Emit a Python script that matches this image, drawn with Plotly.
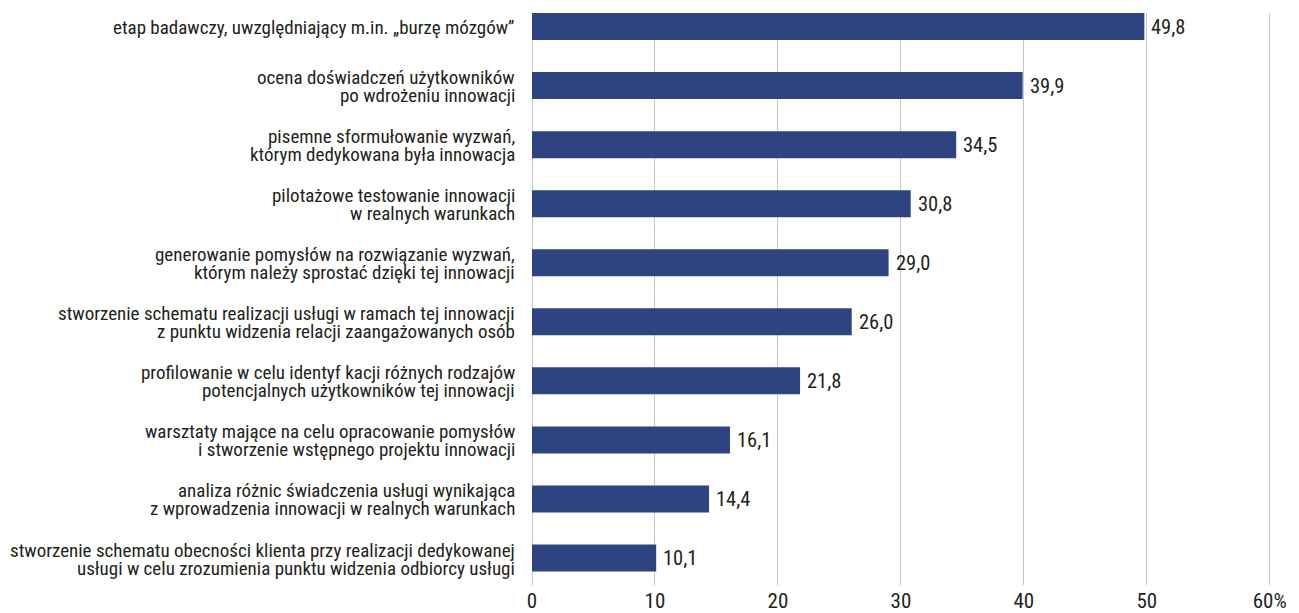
import plotly.graph_objects as go

categories = [
    "etap badawczy, uwzględniający m.in. „burzę mózgów”",
    "ocena doświadczeń użytkowników<br>po wdrożeniu innowacji",
    "pisemne sformułowanie wyzwań,<br>którym dedykowana była innowacja",
    "pilotażowe testowanie innowacji<br>w realnych warunkach",
    "generowanie pomysłów na rozwiązanie wyzwań,<br>którym należy sprostać dzięki tej innowacji",
    "stworzenie schematu realizacji usługi w ramach tej innowacji<br>z punktu widzenia relacji zaangażowanych osób",
    "profilowanie w celu identyf kacji różnych rodzajów<br>potencjalnych użytkowników tej innowacji",
    "warsztaty mające na celu opracowanie pomysłów<br>i stworzenie wstępnego projektu innowacji",
    "analiza różnic świadczenia usługi wynikająca<br>z wprowadzenia innowacji w realnych warunkach",
    "stworzenie schematu obecności klienta przy realizacji dedykowanej<br>usługi w celu zrozumienia punktu widzenia odbiorcy usługi",
]
values = [49.8, 39.9, 34.5, 30.8, 29.0, 26.0, 21.8, 16.1, 14.4, 10.1]
tick_vals = [0, 10, 20, 30, 40, 50, 60]
tick_text = ["0", "10", "20", "30", "40", "50", "60%"]

FONT = "Roboto Condensed, Liberation Sans, sans-serif"
TEXT = "#231f20"
BAR = "#2e4480"
GRID = "#c6c6c6"
LINE_STEP = 18  # px between the two lines of a category label

fig = go.Figure(go.Bar(
    x=values, y=categories, orientation="h",
    marker=dict(color=BAR, line=dict(width=0)),
    width=0.457, hoverinfo="skip",
))

annotations = []
for cat, val in zip(categories, values):
    lines = cat.split("<br>")
    n = len(lines)
    for i, line in enumerate(lines):
        annotations.append(dict(
            x=0, xref="paper", y=cat, yref="y", text=line,
            xanchor="right", yanchor="middle", xshift=-15,
            yshift=(n - 1) * LINE_STEP / 2 - i * LINE_STEP - 1, showarrow=False,
            font=dict(family=FONT, size=19, color=TEXT),
        ))
    annotations.append(dict(
        x=val, xref="x", y=cat, yref="y",
        text=f"{val:.1f}".replace(".", ","),
        xanchor="left", yanchor="middle", xshift=5, showarrow=False,
        font=dict(family=FONT, size=20.5, color=TEXT),
    ))

fig.update_layout(
    width=1299, height=613,
    margin=dict(l=532, r=28, t=13, b=28, autoexpand=False),
    paper_bgcolor="white", plot_bgcolor="white",
    showlegend=False, annotations=annotations,
    font=dict(family=FONT, color=TEXT),
    xaxis=dict(
        range=[0, 60.1], tickvals=tick_vals, ticktext=tick_text,
        showgrid=True, gridcolor=GRID, gridwidth=1,
        zeroline=True, zerolinecolor=GRID, zerolinewidth=1,
        showline=False, ticks="", ticklabelstandoff=1, automargin=False,
        tickfont=dict(family=FONT, size=21, color=TEXT),
        fixedrange=True,
    ),
    yaxis=dict(
        type="category", categoryorder="array", categoryarray=categories,
        range=[9.457, -0.229], showticklabels=False, showgrid=False,
        zeroline=False, showline=False, ticks="", fixedrange=True,
        automargin=False,
    ),
)

fig.write_html("out.html")
